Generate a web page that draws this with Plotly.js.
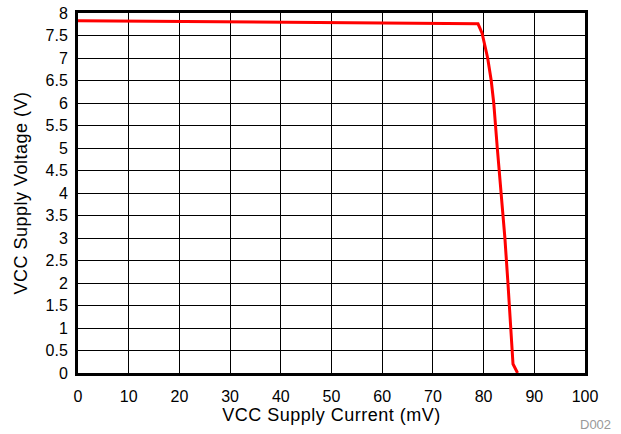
<!DOCTYPE html>
<html><head><meta charset="utf-8">
<script src="https://cdn.plot.ly/plotly-3.0.1.min.js"></script>
<style>html,body{margin:0;padding:0;background:#fff}#c{width:621px;height:434px}
.xtitle,.ytitle{letter-spacing:0.5px}</style>
</head><body><div id="c"></div>
<script>
const currentMA = [0, 78.9, 79.7, 80.8, 81.5, 82.0, 82.7, 83.5, 84.2, 84.8, 85.3, 85.8, 86.7];
const voltageV  = [7.83, 7.76, 7.55, 7.0, 6.5, 6.0, 5.0, 4.0, 3.0, 2.0, 1.0, 0.2, 0.0];
const xTicks = [0,10,20,30,40,50,60,70,80,90,100];
const yTicks = [0,0.5,1,1.5,2,2.5,3,3.5,4,4.5,5,5.5,6,6.5,7,7.5,8];

Plotly.newPlot('c', [{
  x: currentMA, y: voltageV, mode: 'lines', type: 'scatter',
  line: {color: '#ff0000', width: 3}, hoverinfo: 'none'
}], {
  width: 621, height: 434,
  margin: {l: 78, r: 36, t: 13, b: 61},
  paper_bgcolor: '#fff', plot_bgcolor: '#fff',
  font: {family: 'Liberation Sans, Arial, sans-serif', size: 16, color: '#000'},
  showlegend: false,
  xaxis: {
    range: [0, 100], tickvals: xTicks, ticktext: xTicks.map(String),
    showgrid: true, gridcolor: '#000', gridwidth: 1,
    zeroline: false, showline: true, linecolor: '#000', linewidth: 3, mirror: true,
    ticks: '', ticklen: 0, tickfont: {size: 16}, ticklabelstandoff: 7,
    title: {text: 'VCC Supply Current (mV)', font: {size: 18}, standoff: 4}
  },
  yaxis: {
    range: [0, 8], tickvals: yTicks, ticktext: yTicks.map(String),
    showgrid: true, gridcolor: '#000', gridwidth: 1,
    zeroline: false, showline: true, linecolor: '#000', linewidth: 3, mirror: true,
    ticks: '', ticklen: 0, tickfont: {size: 16}, ticklabelstandoff: 4,
    title: {text: 'VCC Supply Voltage (V)', font: {size: 18}, standoff: 14}
  },
  annotations: [{
    text: 'D002', xref: 'paper', yref: 'paper', x: 1.056, y: -0.144,
    xanchor: 'right', yanchor: 'middle', showarrow: false,
    font: {size: 13, color: '#999'}
  }]
}, {displayModeBar: false, staticPlot: true});
</script></body></html>
